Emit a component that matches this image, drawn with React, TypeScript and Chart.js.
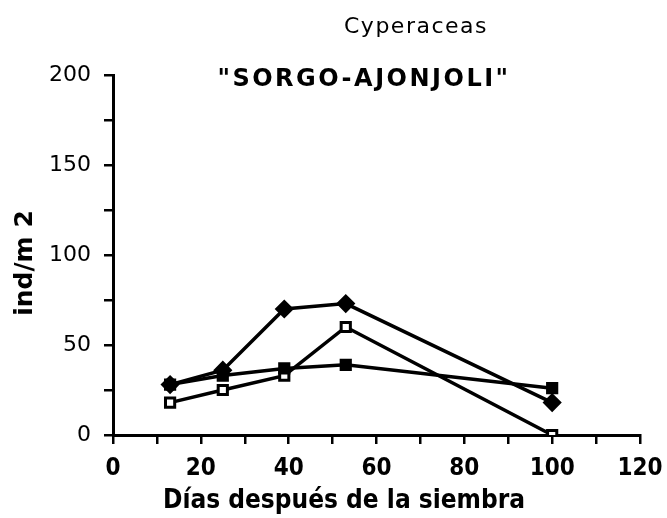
import React, { useEffect, useRef } from "react";
import { Chart, registerables } from "chart.js";

Chart.register(...registerables);

const days = [13, 25, 39, 53, 100];
const seriesFilledSquare = [28, 33, 37, 39, 26];
const seriesOpenSquare = [18, 25, 33, 60, 0];
const seriesDiamond = [28, 36, 70, 73, 18];

const xTicks = [0, 20, 40, 60, 80, 100, 120];
const yTicks = [0, 50, 100, 150, 200];

const titleText = "Cyperaceas";
const subtitleText = "\"SORGO-AJONJOLI\"";
const xTitle = "Días después de la siembra";
const yTitle = "ind/m 2";

const textPlugin = {
  id: "texts",
  afterDraw(chart: any) {
    const ctx = chart.ctx;
    ctx.save();
    ctx.fillStyle = "#000";
    ctx.textAlign = "center";
    ctx.textBaseline = "alphabetic";
    ctx.font = "22px 'DejaVu Sans', sans-serif";
    (ctx as any).letterSpacing = "1.5px";
    ctx.fillText(titleText, 416, 33);
    ctx.font = "bold 24px 'DejaVu Sans', sans-serif";
    (ctx as any).letterSpacing = "2.5px";
    ctx.fillText(subtitleText, 364, 86);
    (ctx as any).letterSpacing = "0px";
    ctx.font = "bold 26px 'DejaVu Sans Condensed', 'DejaVu Sans', sans-serif";
    ctx.fillText(xTitle, 344, 508);
    ctx.translate(25, 263);
    ctx.rotate(-Math.PI / 2);
    ctx.textBaseline = "middle";
    ctx.font = "bold 25px 'DejaVu Sans', sans-serif";
    ctx.fillText(yTitle, 0, 0);
    ctx.restore();
  },
};

export default function App() {
  const ref = useRef<HTMLCanvasElement>(null);
  useEffect(() => {
    if (!ref.current) return;
    const mk = (label: string, data: number[], style: string, fill: boolean) => ({
      label,
      data: days.map((d, i) => ({ x: d, y: data[i] })),
      borderColor: "#000",
      backgroundColor: fill ? "#000" : "#fff",
      pointStyle: style,
      pointRadius: style === "rectRot" ? 7.5 : 6.5,
      pointBorderWidth: 3,
      pointBorderColor: "#000",
      pointBackgroundColor: fill ? "#000" : "#fff",
      borderWidth: 3.5,
      tension: 0,
    });
    const chart = new Chart(ref.current, {
      type: "line",
      data: {
        datasets: [
          mk("A", seriesFilledSquare, "rect", true),
          mk("B", seriesOpenSquare, "rect", false),
          mk("C", seriesDiamond, "rectRot", true),
        ],
      },
      options: {
        animation: false,
        responsive: false,
        layout: { padding: { top: 75, right: 27, left: 0, bottom: 0 } },
        plugins: { legend: { display: false }, title: { display: false }, tooltip: { enabled: false } },
        scales: {
          x: {
            type: "linear",
            min: 0,
            max: 120,
            afterFit: (s: any) => { s.height = 83; s.paddingLeft = 0; s.paddingRight = 0; },
            afterBuildTicks: (s: any) => {
              const t = [];
              for (let v = 0; v <= 120; v += 10) t.push({ value: v });
              s.ticks = t;
            },
            ticks: {
              autoSkip: false,
              maxRotation: 0,
              padding: 10,
              color: "#000",
              font: { family: "'Liberation Sans Narrow', 'DejaVu Sans Condensed', sans-serif", size: 24, weight: "bold" },
              callback: (v: any) => (xTicks.includes(Number(v)) ? String(v) : ""),
            },
            grid: { drawOnChartArea: false, drawTicks: true, tickLength: 9, color: "#000", lineWidth: 2.5 },
            border: { color: "#000", width: 3 },
          },
          y: {
            type: "linear",
            min: 0,
            max: 200,
            afterFit: (s: any) => { s.width = 113; s.paddingTop = 0; s.paddingBottom = 0; },
            afterBuildTicks: (s: any) => {
              const t = [];
              for (let v = 0; v <= 200; v += 25) t.push({ value: v });
              s.ticks = t;
            },
            ticks: {
              autoSkip: false,
              padding: 13,
              color: "#000",
              font: { family: "'DejaVu Sans', sans-serif", size: 22 },
              callback: (v: any) => (yTicks.includes(Number(v)) ? String(v) : ""),
            },
            grid: { drawOnChartArea: false, drawTicks: true, tickLength: 9, color: "#000", lineWidth: 2.5 },
            border: { color: "#000", width: 3 },
          },
        },
      },
      plugins: [textPlugin],
    } as any);
    return () => chart.destroy();
  }, []);
  return (
    <div style={{ position: "fixed", left: 0, top: 0, width: 667, height: 518, background: "#fff" }}>
      <canvas ref={ref} width={667} height={518} style={{ width: 667, height: 518 }} />
    </div>
  );
}
